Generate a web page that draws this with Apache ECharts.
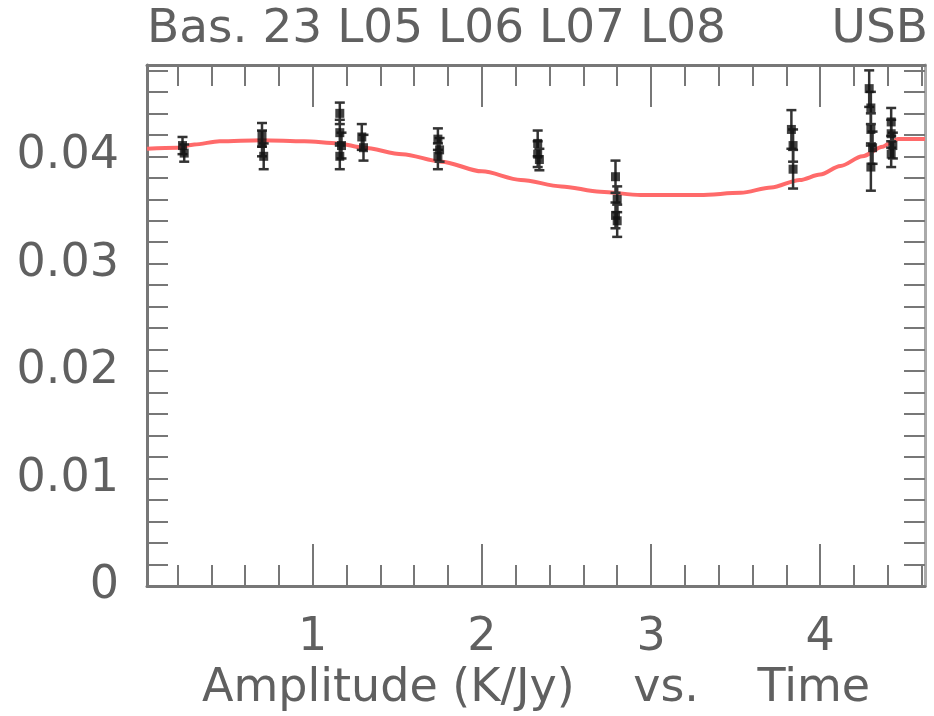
<!DOCTYPE html>
<html>
<head>
<meta charset="utf-8">
<script src="https://cdn.jsdelivr.net/npm/echarts@6/dist/echarts.min.js"></script>
<style>
html,body{margin:0;padding:0;background:#fff}
#chart{width:934px;height:716px}
</style>
</head>
<body>
<div id="chart"></div>
<script>
// measured points (time, amplitude, error)
var ptX = [0.23, 0.24,
	0.70, 0.70, 0.71,
	1.16, 1.16, 1.17, 1.16,
	1.29, 1.30,
	1.74, 1.75, 1.74,
	2.33, 2.33, 2.34,
	2.79, 2.80, 2.79, 2.80,
	3.83, 3.84, 3.84,
	4.29, 4.30, 4.30, 4.31, 4.30,
	4.42, 4.42, 4.43, 4.42];
var ptY = [0.0410, 0.0403,
	0.0420, 0.0412, 0.0400,
	0.0440, 0.0422, 0.0410, 0.0400,
	0.0418, 0.0408,
	0.0416, 0.0406, 0.0400,
	0.0412, 0.0402, 0.0397,
	0.0381, 0.0360, 0.0345, 0.0340,
	0.0425, 0.0410, 0.0388,
	0.0463, 0.0445, 0.0425, 0.0408, 0.0390,
	0.0432, 0.0421, 0.0410, 0.0402];
var ptErr = [0.0008, 0.0008,
	0.0011, 0.0012, 0.0012,
	0.0010, 0.0012, 0.0012, 0.0012,
	0.0012, 0.0012,
	0.0010, 0.0011, 0.0012,
	0.0012, 0.0012, 0.0010,
	0.0015, 0.0012, 0.0012, 0.0015,
	0.0018, 0.0015, 0.0018,
	0.0017, 0.0015, 0.0015, 0.0015, 0.0022,
	0.0013, 0.0013, 0.0012, 0.0012];

// fitted curve
var fitX = [0.02, 0.20, 0.30, 0.45, 0.70, 0.95, 1.15, 1.30, 1.53, 1.76, 2.00, 2.23, 2.47, 2.70, 2.94, 3.29, 3.53, 3.71, 3.88, 4.00, 4.12, 4.25, 4.37, 4.43, 4.46, 4.62];
var fitY = [0.0407, 0.0408, 0.0411, 0.0414, 0.0415, 0.0414, 0.0412, 0.0408, 0.0402, 0.0395, 0.0386, 0.0378, 0.0372, 0.0367, 0.0364, 0.0364, 0.0366, 0.0371, 0.0378, 0.0383, 0.0391, 0.0400, 0.0409, 0.0414, 0.0416, 0.0416];

// axis ticks / labels
var xLabels = [1, 2, 3, 4];
var xMinor = [0.2, 0.4, 0.6, 0.8, 1.2, 1.4, 1.6, 1.8, 2.2, 2.4, 2.6, 2.8, 3.2, 3.4, 3.6, 3.8, 4.2, 4.4, 4.6];
var yLabels = [0, 0.01, 0.02, 0.03, 0.04];
var yTicks = [0, 0.002, 0.004, 0.006, 0.008, 0.010, 0.012, 0.014, 0.016, 0.018, 0.020, 0.022, 0.024, 0.026, 0.028, 0.030, 0.032, 0.034, 0.036, 0.038, 0.040, 0.042, 0.044, 0.046, 0.048];
var topLeftText = 'Bas. 23 L05 L06 L07 L08';
var topRightText = 'USB';
var xName = 'Amplitude (K/Jy)    vs.    Time';

var font = 'DejaVu Sans';
var grey = '#606060';
var axisGrey = '#777';

var points = [];
var bars = [];
for (var i = 0; i < ptX.length; i++) {
	points.push([ptX[i], ptY[i]]);
	bars.push([ptX[i], ptY[i] - ptErr[i], ptY[i] + ptErr[i]]);
}
var fit = [];
for (var i = 0; i < fitX.length; i++) {
	fit.push([fitX[i], fitY[i]]);
}

function xAxisDef(pos, ticks, len, showLine, showLabel) {
	return {
		type: 'value',
		position: pos,
		min: 0.02,
		max: 4.62,
		splitLine: {show: false},
		axisLine: {show: showLine, onZero: false, lineStyle: {color: axisGrey, width: 3}},
		axisTick: {show: true, inside: true, length: len, customValues: ticks, lineStyle: {color: axisGrey, width: 2}},
		axisLabel: {show: showLabel, customValues: xLabels, margin: 29, color: grey, fontSize: 46, fontFamily: font}
	};
}

var myChart = echarts.init(document.getElementById('chart'));
var option = {
	backgroundColor: '#fff',
	animation: false,
	title: [{
		text: topLeftText,
		left: 147,
		top: 6,
		padding: 0,
		textStyle: {fontSize: 47, fontWeight: 'normal', color: grey, fontFamily: font}
	}, {
		text: topRightText,
		right: 6,
		top: 6,
		padding: 0,
		textStyle: {fontSize: 47, fontWeight: 'normal', color: grey, fontFamily: font}
	}],
	grid: {left: 147, right: 9, top: 65, bottom: 130, outerBoundsMode: 'none', containLabel: false},
	xAxis: [
		(function(){
			var a = xAxisDef('bottom', xLabels, 42, true, true);
			a.name = xName;
			a.nameLocation = 'middle';
			a.nameGap = 80;
			a.nameTextStyle = {fontSize: 46, color: grey, fontFamily: font};
			return a;
		})(),
		xAxisDef('bottom', xMinor, 21, false, false),
		xAxisDef('top', xLabels, 42, true, false),
		xAxisDef('top', xMinor, 21, false, false)
	],
	yAxis: [{
		type: 'value',
		position: 'left',
		min: 0,
		max: 0.0485,
		splitLine: {show: false},
		axisLine: {show: true, onZero: false, lineStyle: {color: axisGrey, width: 3}},
		axisTick: {show: true, inside: true, length: 21, customValues: yTicks, lineStyle: {color: axisGrey, width: 2}},
		axisLabel: {customValues: yLabels, margin: 28, color: grey, fontSize: 46, fontFamily: font}
	}, {
		type: 'value',
		position: 'right',
		min: 0,
		max: 0.0485,
		splitLine: {show: false},
		axisLine: {show: true, onZero: false, lineStyle: {color: '#aaa', width: 3}},
		axisTick: {show: true, inside: true, length: 21, customValues: yTicks, lineStyle: {color: axisGrey, width: 2}},
		axisLabel: {show: false}
	}],
	series: [{
		name: 'fit',
		type: 'line',
		xAxisIndex: 0,
		yAxisIndex: 0,
		data: fit,
		smooth: 0.3,
		smoothMonotone: 'x',
		showSymbol: false,
		lineStyle: {color: '#ff6a6a', width: 4},
		z: 1
	}, {
		name: 'err',
		type: 'custom',
		xAxisIndex: 0,
		yAxisIndex: 0,
		data: bars,
		encode: {x: 0, y: [1, 2]},
		renderItem: function(params, api){
			var x = api.value(0);
			var lo = api.coord([x, api.value(1)]);
			var hi = api.coord([x, api.value(2)]);
			var w = 5;
			var st = {stroke: '#333', lineWidth: 2.5};
			return {
				type: 'group',
				children: [
					{type: 'line', shape: {x1: hi[0], y1: hi[1], x2: lo[0], y2: lo[1]}, style: st},
					{type: 'line', shape: {x1: hi[0] - w, y1: hi[1], x2: hi[0] + w, y2: hi[1]}, style: st},
					{type: 'line', shape: {x1: lo[0] - w, y1: lo[1], x2: lo[0] + w, y2: lo[1]}, style: st}
				]
			};
		},
		z: 2
	}, {
		name: 'amp',
		type: 'scatter',
		xAxisIndex: 0,
		yAxisIndex: 0,
		data: points,
		symbol: 'rect',
		symbolSize: 9,
		itemStyle: {color: '#111'},
		z: 3
	}]
};
myChart.setOption(option);
</script>
</body>
</html>
